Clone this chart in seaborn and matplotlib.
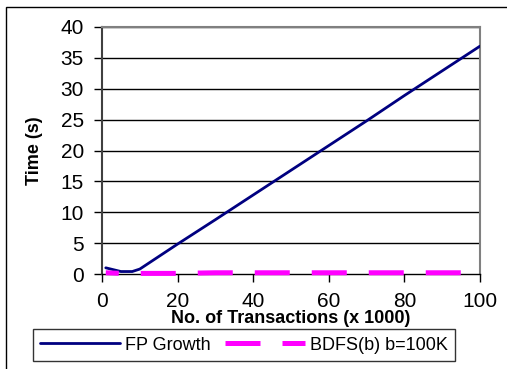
import numpy as np
import pandas as pd
import matplotlib
matplotlib.use('Agg')
import matplotlib.pyplot as plt
import seaborn as sns
from matplotlib.patches import Rectangle

sns.set_style('white')
plt.rcParams['font.family'] = ['Liberation Sans', 'DejaVu Sans']
plt.rcParams['text.color'] = 'black'
plt.rcParams['axes.labelcolor'] = 'black'
plt.rcParams['xtick.color'] = 'black'
plt.rcParams['ytick.color'] = 'black'

# data
transactions = [1, 5, 8, 10, 20, 30, 40, 50, 60, 70, 80, 90, 100]
fp_growth = [1.0, 0.4, 0.4, 0.8, 4.85, 8.8, 12.8, 16.8, 20.8, 24.8, 28.9, 32.9, 36.9]
bdfs = [0.2, 0.1, 0.1, 0.1, 0.1, 0.2, 0.2, 0.2, 0.2, 0.2, 0.2, 0.2, 0.2]

df = pd.DataFrame({'x': transactions, 'FP Growth': fp_growth, 'BDFS(b) b=100K': bdfs})

fig = plt.figure(figsize=(5.07, 3.69), dpi=100)
ax = fig.add_axes([102/507, 1 - 274/369, 378/507, 247/369])

# outer frame of the original chart
fig.patches.append(Rectangle((6/507, -0.1), 1.2, (1 - 7/369) + 0.1, transform=fig.transFigure,
                             fill=False, edgecolor='black', linewidth=1, zorder=0))

for y in range(5, 41, 5):
    ax.axhline(y, color='black', linewidth=1, zorder=1)

sns.lineplot(data=df, x='x', y='FP Growth', ax=ax, color='#000080', linewidth=2,
             label='FP Growth', zorder=3)
sns.lineplot(data=df, x='x', y='BDFS(b) b=100K', ax=ax, color='#FF00FF', linewidth=3.6,
             label='BDFS(b) b=100K', zorder=4)
ax.lines[-1].set_linestyle((4.4, (7, 4.4)))
ax.lines[-1].set_clip_on(False)

ax.set_xlim(0, 100)
ax.set_ylim(0, 40)
ax.set_xticks(range(0, 101, 20))
ax.set_yticks(range(0, 41, 5))
ax.tick_params(axis='both', labelsize=15, labelcolor='black', direction='out', length=6,
               width=1, color='black', bottom=True, left=True, pad=7)
ax.set_xlabel('No. of Transactions (x 1000)', fontsize=13, fontweight='bold', labelpad=-1)
ax.set_ylabel('Time (s)', fontsize=13, fontweight='bold', labelpad=13)

for side in ['top', 'right']:
    ax.spines[side].set_color('#808080')
    ax.spines[side].set_linewidth(1.5)
ax.spines['left'].set_color('#404040')
ax.spines['left'].set_linewidth(1.5)
ax.spines['bottom'].set_color('black')
ax.spines['bottom'].set_linewidth(1)

handles, labels = ax.get_legend_handles_labels()
ax.get_legend().remove()
leg = fig.legend(handles, labels, ncol=2, loc='center', fontsize=13,
                 bbox_to_anchor=(244/507, 1 - 345/369), frameon=True, fancybox=False,
                 edgecolor='black', handlelength=4.4, handletextpad=0.3,
                 columnspacing=0.8, borderpad=0.4, borderaxespad=0)
leg.get_frame().set_linewidth(1)
leg.legend_handles[1].set_linestyle((0, (7, 4.4)))

fig.savefig('out.png', dpi=100)
